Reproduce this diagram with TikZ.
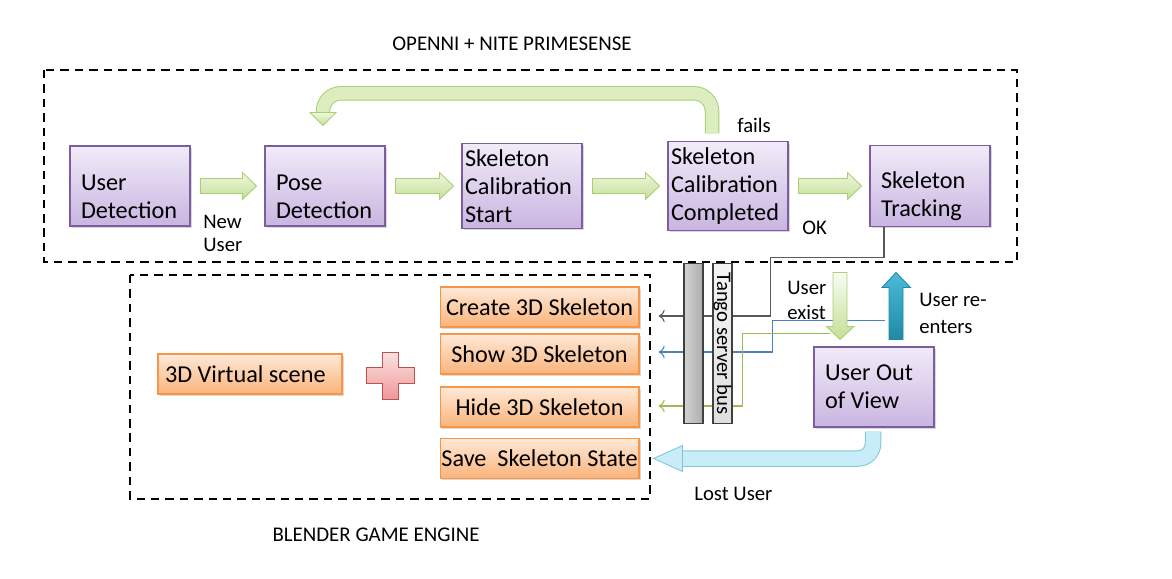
\documentclass[tikz,border=0pt]{standalone}
\usepackage{fontspec}
\setmainfont{Carlito}
\usepackage{xcolor}
\usepackage{tikz}
\usetikzlibrary{shapes,arrows,arrows.meta,positioning,calc,shadows}

\definecolor{purpbord}{HTML}{7A5E9E}
\definecolor{purptop}{HTML}{F1EBF8}
\definecolor{purpbot}{HTML}{C9B5E1}
\definecolor{orbord}{HTML}{F79646}
\definecolor{ortop}{HTML}{FEE9D8}
\definecolor{orbot}{HTML}{FAB37A}
\definecolor{grbord}{HTML}{A9CF74}
\definecolor{grtop}{HTML}{EFF8E1}
\definecolor{grbot}{HTML}{C4DF95}
\definecolor{grmid}{HTML}{DCEEC0}
\definecolor{cybord}{HTML}{7FC6DE}
\definecolor{cymid}{HTML}{C8ECF8}
\definecolor{teltop}{HTML}{4CBAD9}
\definecolor{telbot}{HTML}{1E8AA6}
\definecolor{plusbord}{HTML}{C0504D}
\definecolor{plustop}{HTML}{FCE1E1}
\definecolor{plusbot}{HTML}{EE9999}
\definecolor{wireblue}{HTML}{4F81BD}
\definecolor{wiregreen}{HTML}{9BBB59}

\tikzset{
  frame/.style={draw=black, line width=0.6pt, dash pattern=on 4.8pt off 3.4pt},
  title/.style={font=\fontsize{11.9}{14}\selectfont, inner sep=0},
  lbl/.style={font=\fontsize{11.8}{13}\selectfont, align=flush left, anchor=west, inner sep=0},
  stage/.style={rectangle, draw=purpbord, line width=0.6pt, top color=purptop, bottom color=purpbot,
    minimum width=2.4cm, minimum height=1.6cm, text width=1.96cm, inner xsep=0.22cm, align=flush left,
    font=\fontsize{13.8}{15.9}\selectfont,
    drop shadow={shadow xshift=1pt, shadow yshift=-1pt, opacity=0.3}},
  tight/.style={text width=2.28cm, inner xsep=0.06cm},
  low/.style={execute at begin node={\rule{0pt}{21pt}}},
  action/.style={rectangle, draw=orbord, line width=0.6pt, top color=ortop, bottom color=orbot,
    minimum width=3.98cm, minimum height=0.8cm, inner sep=0, font=\fontsize{13.8}{15}\selectfont,
    drop shadow={shadow xshift=1pt, shadow yshift=-1pt, opacity=0.3}},
  flow/.style={draw=grbord, line width=0.5pt, top color=grtop, bottom color=grbot},
  wire/.style={line width=0.6pt, -{To[length=3.5pt,width=7pt]}},
  bar/.style={rectangle, draw=black!75, line width=0.6pt, inner sep=0},
}

% fat green arrow between two stages
\newcommand{\fatarrow}[2]{%
  \path[flow] ($(#1.east)+(10,-7.5)$) -- ($(#2.west)+(-22,-7.5)$) -- ($(#2.west)+(-22,-13.5)$)
    -- ($(#2.west)+(-8,0)$) -- ($(#2.west)+(-22,13.5)$) -- ($(#2.west)+(-22,7.5)$)
    -- ($(#1.east)+(10,7.5)$) -- cycle;}

\begin{document}
\begin{tikzpicture}[x=0.02cm, y=-0.02cm]
    \useasboundingbox (0,0) rectangle (1172,578);

    % Frames and titles
    \draw[frame] (44,70) rectangle (1017,262);
    \draw[frame] (130,275) rectangle (650,499);
    \node[title] (tOpen) at (512,44) {OPENNI + NITE PRIMESENSE};
    \node[title] (tBlend) at (376,535) {BLENDER GAME ENGINE};

    % OpenNI stages
    \node[stage, low] (ud) at (130,186) {User\\Detection};
    \node[stage, low] (pd) at (325,186) {Pose\\Detection};
    \node[stage, tight] (scs) at (522,186) {Skeleton\\Calibration\\Start};
    \node[stage, tight, minimum height=1.64cm] (scc) at (728,186) {Skeleton\\Calibration\\Completed};
    \node[stage, low] (st) at (930,186) {Skeleton\\Tracking};
    \node[stage] (uov) at (874,387) {User Out\\of View};

    \foreach \a/\b in {ud/pd, pd/scs, scs/scc, scc/st}
        \fatarrow{\a}{\b};

    % Calibration fails: back to pose detection
    \coordinate (fbStart) at ($(scc.north)+(-16,-8)$);
    \draw[line width=0.29cm, draw=grbord, rounded corners=0.36cm] (fbStart) -- ++(0,-40) -| ($(pd.north)+(-2,-33)$);
    \draw[line width=0.25cm, draw=grmid, rounded corners=0.36cm] (fbStart) -- ++(0,-40) -| ($(pd.north)+(-2,-33)$);
    \path[flow] ($(pd.north)+(-15,-33)$) -- ($(pd.north)+(11,-33)$) -- ($(pd.north)+(-2,-20)$) -- cycle;

    % Blender actions
    \node[action, minimum width=3.68cm, text width=3.4cm, inner xsep=0.14cm, align=flush left] (vs) at (250,374) {3D Virtual scene};
    \foreach \n/\y/\t in {cs/307/Create 3D Skeleton, ss/354/Show 3D Skeleton,
                          hs/407/Hide 3D Skeleton, sv/458.5/Save\ \ Skeleton State}
        \node[action] (\n) at (539.5,\y) {\t};

    % Plus sign
    \coordinate (plus) at (390,375.5);
    \path[draw=plusbord, line width=0.5pt, top color=plustop, bottom color=plusbot]
        ($(plus)+(-8,-23.5)$) -- ++(16,0) -- ++(0,15.5) -- ++(16,0) -- ++(0,16) -- ++(-16,0)
        -- ++(0,15.5) -- ++(-16,0) -- ++(0,-15.5) -- ++(-16,0) -- ++(0,-16) -- ++(16,0) -- cycle;

    % Anchors of the user exist / re-enters arrows
    \coordinate (exTip) at ($(uov.north)+(-34,-7)$);
    \coordinate (reBase) at ($(uov.north)+(22,-7)$);

    % Messages over the bus
    \draw[wire, draw=black!65] ($(st.south)+(-46,0)$) -- ++(0,31) -| ($(cs.east)+(131,9)$) -- ($(cs.east)+(19,9)$);
    \draw[wire, draw=wireblue] ($(reBase)+(-11,-19)$) -| ($(ss.east)+(133,-2)$) -- ($(ss.east)+(19,-2)$);
    \draw[wire, draw=wiregreen] ($(exTip)+(-10,-6)$) -| ($(hs.east)+(103,-1)$) -- ($(hs.east)+(19,-1)$);

    % Tango bus
    \node[bar, minimum width=0.38cm, minimum height=3.2cm, left color=gray!35, right color=gray!65] (bus) at (693.5,343.5) {};
    \node[bar, rotate=-90, minimum width=3.2cm, minimum height=0.38cm, top color=gray!8, bottom color=gray!25,
          font=\fontsize{11.8}{12}\selectfont] (tango) at (722.5,343.5) {Tango server bus};

    % User exist / user re-enters
    \path[draw=grbord, line width=0.5pt, top color=white!60!grtop, bottom color=grbot]
        ($(exTip)+(-7,-67)$) -- ++(14,0) -- ++(0,54) -- ++(7,0) -- (exTip) -- ++(-13.5,-13) -- ++(6.5,0) -- cycle;
    \path[draw=telbot, line width=0.5pt, top color=teltop, bottom color=telbot]
        ($(reBase)+(-7,0)$) -- ++(0,-52) -- ++(-7,0) -- ($(reBase)+(0,-67)$) -- ++(14.5,15) -- ++(-7.5,0) -- ++(0,52) -- cycle;

    % Lost user
    \draw[line width=0.33cm, draw=cybord, rounded corners=0.3cm] ($(uov.south)+(-1,4)$) |- ($(sv.east)+(43,0)$);
    \draw[line width=0.29cm, draw=cymid, rounded corners=0.3cm] ($(uov.south)+(-1,4)$) |- ($(sv.east)+(43,0)$);
    \path[draw=cybord, line width=0.5pt, fill=cymid] ($(sv.east)+(43,-13)$) -- ($(sv.east)+(14,0)$) -- ($(sv.east)+(43,13)$) -- cycle;

    % Labels
    \node[lbl, font=\fontsize{11.8}{13}\selectfont] (lNew) at (203,233) {New\\User};
    \node[lbl] (lFail) at (737,125) {fails};
    \node[lbl] (lOk) at (802,228) {OK};
    \node[lbl, font=\fontsize{11.8}{14.2}\selectfont] (lExist) at (787,300) {User\\exist};
    \node[lbl, font=\fontsize{11.8}{15.3}\selectfont] (lRe) at (919,313.5) {User re-\\enters};
    \node[lbl] (lLost) at (694,494) {Lost User};

\end{tikzpicture}
\end{document}
